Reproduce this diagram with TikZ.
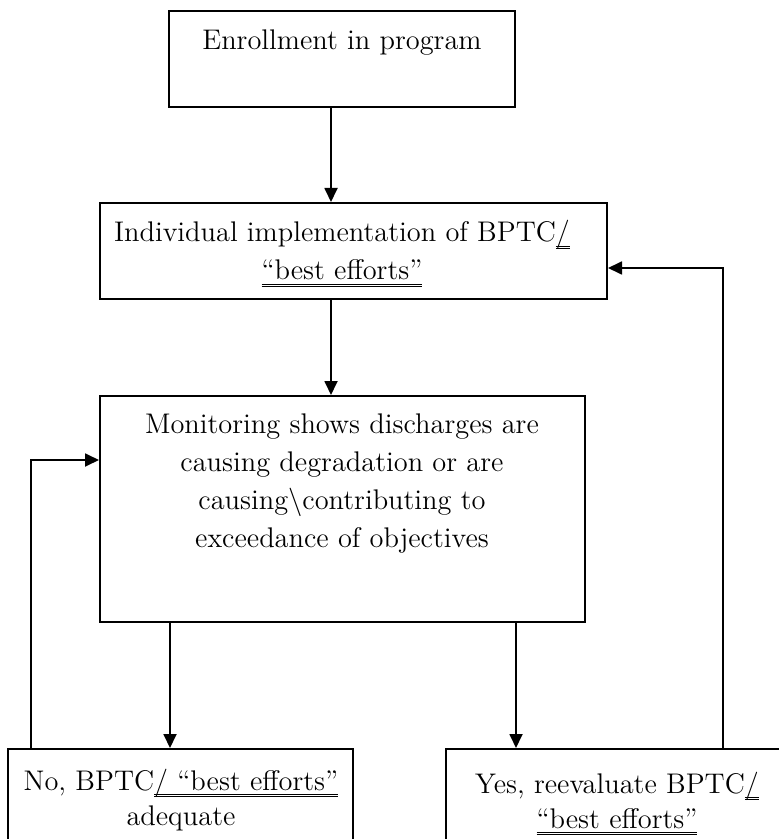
\documentclass[tikz,border=0pt]{standalone}
\usepackage{fontspec}
\usetikzlibrary{arrows.meta,fit}
\newcommand\dul[1]{\leavevmode\vtop{\setbox0\hbox{#1}\dp0=0pt\box0\kern2pt\hrule height0.4pt\kern0.7pt\hrule height0.4pt}}

\begin{document}
\begin{tikzpicture}[x=0.5pt,y=-0.5pt,
    box/.style={draw,line width=1pt,inner sep=0pt},
    txt/.style={align=center,inner sep=0pt,anchor=base,font=\fontsize{14.2pt}{19pt}\selectfont},
    low/.style={txt,font=\fontsize{14.2pt}{17.5pt}\selectfont},
    arr/.style={-{Triangle[length=7pt,width=6.5pt]},line width=0.9pt}]
    \useasboundingbox (0,0) rectangle (779,839);
    \clip (0,0) rectangle (779,839);
    \node[box,fit={(169,11) (515,107)}](enroll){};
    \node[box,fit={(100,203) (607,299)}](impl){};
    \node[box,fit={(100,396) (585,622)}](monitor){};
    \node[box,fit={(8,749) (353,880)}](no){};
    \node[box,fit={(446,749) (860,880)}](yes){};
    % base of a multi-line node = its last line
    \node[txt](enroll-t) at (342,50){Enrollment in program};
    \node[txt](impl-t) at (342,280){Individual implementation of BPTC\dul{/}\\ \dul{“best efforts”}};
    \node[txt](monitor-t) at (342,547){Monitoring shows discharges are\\ causing degradation or are\\ causing\textbackslash contributing to\\ exceedance of objectives};
    \node[low](no-t) at (181,825){No, BPTC\dul{/ “best efforts”}\\ adequate};
    \node[low](yes-t) at (617,828){Yes, reevaluate BPTC\dul{/}\\ \dul{“best efforts”}};
    \coordinate (spine) at (331,0);
    \coordinate (noin) at (170,0);
    \coordinate (yesin) at (516,0);
    \coordinate (backL) at (31,460);
    \coordinate (backR) at (723,268);
    \path[arr]
    (enroll.south -| spine) edge (impl.north -| spine)
    (impl.south -| spine) edge (monitor.north -| spine)
    (monitor.south -| noin) edge (no.north -| noin)
    (monitor.south -| yesin) edge (yes.north -| yesin);
    \draw[arr] (no.north -| backL) |- (monitor.west |- backL);
    \draw[arr] (yes.north -| backR) |- (impl.east |- backR);
\end{tikzpicture}
\end{document}
